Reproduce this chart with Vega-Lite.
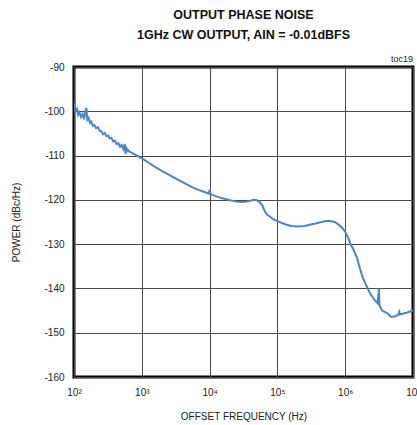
{
  "$schema": "https://vega.github.io/schema/vega-lite/v6.json",
  "autosize": {"type": "none"},
  "width": 339,
  "height": 310,
  "padding": {"left": 74, "top": 67, "right": 4, "bottom": 48},
  "background": "white",
  "config": {
    "font": "Liberation Sans",
    "view": {"stroke": "black", "strokeWidth": 3},
    "axis": {"domain": false, "ticks": false, "grid": true, "gridColor": "#4a4a4a", "gridWidth": 1, "gridOpacity": 1,
      "labelFont": "Liberation Sans", "labelFontSize": 10, "labelColor": "#222", "titleFont": "Liberation Sans", "titleFontSize": 10, "titleFontWeight": "normal", "titleColor": "#222"}
  },
  "title": {
    "text": ["OUTPUT PHASE NOISE", "1GHz CW OUTPUT, AIN = -0.01dBFS"],
    "anchor": "middle",
    "font": "'Liberation Sans Narrow', 'Liberation Sans'",
    "fontSize": 12.5,
    "fontWeight": "bold",
    "color": "#111",
    "lineHeight": 20,
    "offset": 14
  },
  "datasets": {
    "noise": [
      {"f": 100, "p": -98.2}, {"f": 105, "p": -99.8}, {"f": 110, "p": -99.4}, {"f": 115, "p": -100.8},
      {"f": 120, "p": -100.2}, {"f": 127, "p": -101.3}, {"f": 134, "p": -100.6}, {"f": 141, "p": -101.8},
      {"f": 147, "p": -100.0}, {"f": 152, "p": -99.2}, {"f": 157, "p": -101.9}, {"f": 164, "p": -101.5},
      {"f": 172, "p": -102.6}, {"f": 180, "p": -102.3}, {"f": 190, "p": -103.3}, {"f": 200, "p": -103.1},
      {"f": 212, "p": -103.8}, {"f": 225, "p": -103.6}, {"f": 238, "p": -104.4}, {"f": 252, "p": -104.5},
      {"f": 267, "p": -105.2}, {"f": 283, "p": -104.9}, {"f": 300, "p": -105.6}, {"f": 318, "p": -105.5},
      {"f": 337, "p": -106.1}, {"f": 357, "p": -106.0}, {"f": 378, "p": -106.8}, {"f": 400, "p": -106.6},
      {"f": 424, "p": -107.4}, {"f": 450, "p": -107.2}, {"f": 477, "p": -108.0}, {"f": 505, "p": -107.6},
      {"f": 535, "p": -108.5}, {"f": 560, "p": -107.4}, {"f": 580, "p": -109.6}, {"f": 600, "p": -108.4},
      {"f": 640, "p": -109.0}, {"f": 690, "p": -109.3}, {"f": 740, "p": -109.5}, {"f": 800, "p": -109.8},
      {"f": 870, "p": -110.1}, {"f": 940, "p": -110.4}, {"f": 1000, "p": -110.6}, {"f": 1200, "p": -111.4},
      {"f": 1500, "p": -112.4}, {"f": 2000, "p": -113.5}, {"f": 2500, "p": -114.3}, {"f": 3000, "p": -115.0},
      {"f": 4000, "p": -116.0}, {"f": 5000, "p": -116.8}, {"f": 6000, "p": -117.4}, {"f": 7000, "p": -117.8},
      {"f": 8000, "p": -118.1}, {"f": 9000, "p": -118.4}, {"f": 9800, "p": -118.6}, {"f": 10000, "p": -117.7},
      {"f": 10300, "p": -118.7}, {"f": 12000, "p": -119.1}, {"f": 15000, "p": -119.6}, {"f": 20000, "p": -120.1},
      {"f": 25000, "p": -120.4}, {"f": 30000, "p": -120.5}, {"f": 35000, "p": -120.4}, {"f": 40000, "p": -120.2},
      {"f": 45000, "p": -120.0}, {"f": 50000, "p": -120.1}, {"f": 55000, "p": -120.5}, {"f": 60000, "p": -121.3},
      {"f": 65000, "p": -122.5}, {"f": 70000, "p": -123.3}, {"f": 78000, "p": -123.8}, {"f": 85000, "p": -124.3},
      {"f": 100000, "p": -124.8}, {"f": 130000, "p": -125.5}, {"f": 160000, "p": -125.9}, {"f": 200000, "p": -126.0},
      {"f": 250000, "p": -125.9}, {"f": 300000, "p": -125.6}, {"f": 380000, "p": -125.3}, {"f": 450000, "p": -125.0},
      {"f": 520000, "p": -124.8}, {"f": 600000, "p": -124.8}, {"f": 700000, "p": -125.0}, {"f": 800000, "p": -125.6},
      {"f": 900000, "p": -126.3}, {"f": 1000000, "p": -127.2}, {"f": 1100000, "p": -128.5}, {"f": 1200000, "p": -130.0},
      {"f": 1350000, "p": -131.5}, {"f": 1500000, "p": -133.2}, {"f": 1650000, "p": -135.5}, {"f": 1800000, "p": -137.4},
      {"f": 2000000, "p": -139.0}, {"f": 2300000, "p": -141.0}, {"f": 2700000, "p": -142.6}, {"f": 3000000, "p": -143.3},
      {"f": 3150000, "p": -140.0}, {"f": 3200000, "p": -143.8}, {"f": 3500000, "p": -145.0}, {"f": 4200000, "p": -145.6},
      {"f": 4700000, "p": -146.4}, {"f": 5200000, "p": -146.4}, {"f": 6000000, "p": -146.0}, {"f": 6300000, "p": -145.3},
      {"f": 6400000, "p": -145.9}, {"f": 8000000, "p": -145.5}, {"f": 10000000, "p": -145.0}
    ],
    "note": [{"f": 10000000, "p": -90, "t": "toc19"}]
  },
  "layer": [
    {
      "data": {"name": "noise"},
      "mark": {"type": "line", "color": "#4a86c6", "strokeWidth": 2, "clip": true},
      "encoding": {
        "x": {"field": "f", "type": "quantitative",
          "scale": {"type": "log", "domain": [100, 10000000], "nice": false},
          "axis": {"values": [100, 1000, 10000, 100000, 1000000, 10000000],
            "labelExpr": "'10' + ['⁰','¹','²','³','⁴','⁵','⁶','⁷'][round(log(datum.value)/LN10)]",
            "labelPadding": 10, "title": "OFFSET FREQUENCY (Hz)", "titlePadding": 14, "labelFlush": false}},
        "y": {"field": "p", "type": "quantitative",
          "scale": {"domain": [-160, -90], "nice": false},
          "axis": {"values": [-160, -150, -140, -130, -120, -110, -100, -90], "labelPadding": 10,
            "labelExpr": "'' + datum.value",
            "title": "POWER (dBc/Hz)", "titlePadding": 22}}
      }
    },
    {
      "data": {"name": "note"},
      "mark": {"type": "text", "align": "right", "baseline": "bottom", "dy": -3, "fontSize": 9, "color": "#222"},
      "encoding": {
        "x": {"field": "f", "type": "quantitative"},
        "y": {"field": "p", "type": "quantitative"},
        "text": {"field": "t"}
      }
    }
  ]
}
